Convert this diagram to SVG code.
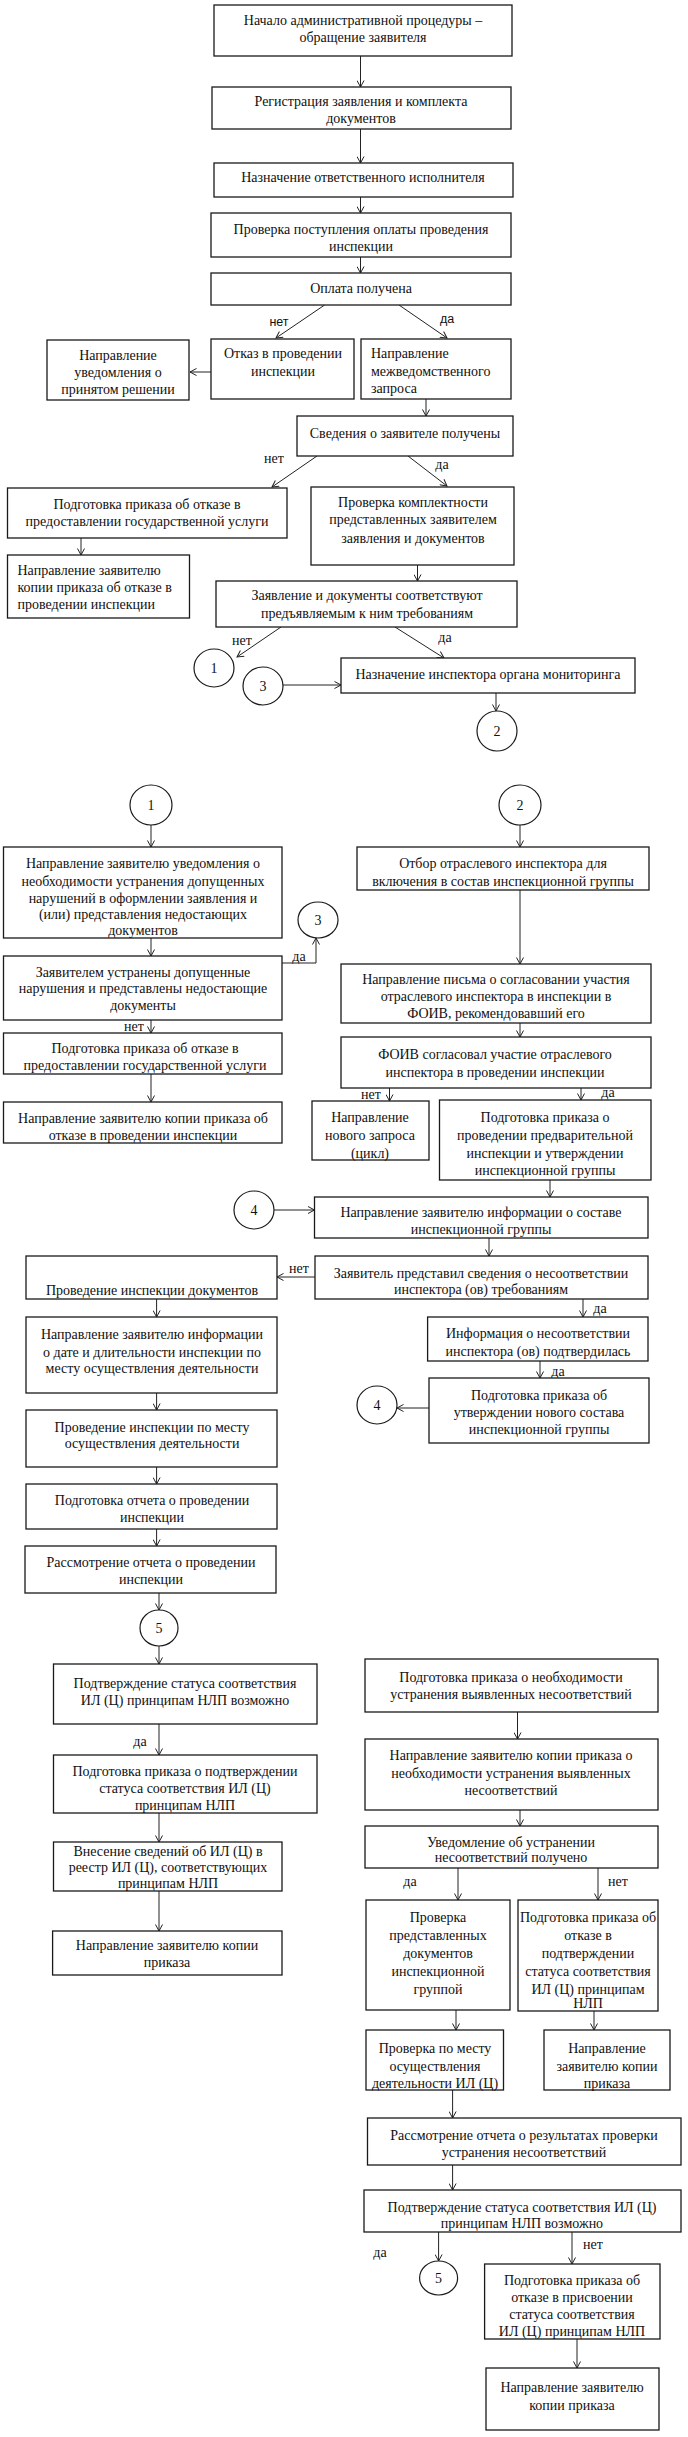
<svg xmlns="http://www.w3.org/2000/svg" width="688" height="2437" viewBox="0 0 688 2437">
<style>
.b{fill:#fff;stroke:#1a1a1a;stroke-width:1.3}
.c{fill:#fff;stroke:#1a1a1a;stroke-width:1.2}
text{font-family:"Liberation Serif","Times New Roman",serif;font-size:14px;fill:#111;text-anchor:middle}
text.l{text-anchor:start}
text.s{font-family:"Liberation Sans",Arial,sans-serif;font-size:12.5px}
#edges path{fill:none;stroke:#222;stroke-width:1;marker-end:url(#ah)}
</style>
<defs>
<marker id="ah" markerWidth="8" markerHeight="8" refX="7" refY="4" orient="auto" markerUnits="userSpaceOnUse">
<path d="M0.5,0.5 L7,4 L0.5,7.5" fill="none" stroke="#222" stroke-width="1"/>
</marker>
</defs>
<rect width="688" height="2437" fill="#fff"/>

<g id="edges">
<path d="M360.5,56V87"/>
<path d="M360.5,129V163"/>
<path d="M360.5,197V213"/>
<path d="M360.5,257V273"/>
<path d="M324.6,305L276,338"/>
<path d="M399,305L447,338"/>
<path d="M211,372H190"/>
<path d="M426,399V416"/>
<path d="M317,456L272,487"/>
<path d="M408,456L447,486"/>
<path d="M81,538V555"/>
<path d="M417.5,565V581"/>
<path d="M281,627L237,657"/>
<path d="M395,627L444,658"/>
<path d="M283,685H341"/>
<path d="M496,693V711"/>
<path d="M151,825V847"/>
<path d="M151,938V956"/>
<path d="M282,963H316V938"/>
<path d="M151,1020V1033"/>
<path d="M151,1074V1102"/>
<path d="M520,825V847"/>
<path d="M520,890V964"/>
<path d="M520,1023V1037"/>
<path d="M389.5,1088V1101"/>
<path d="M581,1088V1100"/>
<path d="M550,1180V1197"/>
<path d="M274,1210H314.5"/>
<path d="M489,1238V1256"/>
<path d="M315,1277H277"/>
<path d="M156.6,1299V1317"/>
<path d="M156.6,1393V1410"/>
<path d="M583,1299V1317"/>
<path d="M540,1361V1378"/>
<path d="M429,1408H397"/>
<path d="M156.6,1467V1484"/>
<path d="M156.6,1529V1546"/>
<path d="M159,1593V1610"/>
<path d="M159,1646V1664"/>
<path d="M159,1724V1755"/>
<path d="M159,1813V1842"/>
<path d="M159,1891V1931"/>
<path d="M517.5,1712V1739"/>
<path d="M520,1810V1826"/>
<path d="M458,1868V1900"/>
<path d="M598,1868V1900"/>
<path d="M456,2010V2030"/>
<path d="M594,2011V2030"/>
<path d="M452.6,2090V2118"/>
<path d="M452.6,2165V2190"/>
<path d="M438.6,2232V2261"/>
<path d="M572,2232V2264"/>
<path d="M577,2339V2368"/>
</g>

<g id="labels">
<text class="s" x="279" y="326">нет</text>
<text class="s" x="447" y="323">да</text>
<text x="274" y="463">нет</text>
<text x="442" y="469">да</text>
<text x="242" y="645">нет</text>
<text x="445" y="642">да</text>
<text x="299" y="961">да</text>
<text x="134" y="1031">нет</text>
<text x="371" y="1099">нет</text>
<text x="608" y="1097">да</text>
<text x="299" y="1273">нет</text>
<text x="600" y="1313">да</text>
<text x="558" y="1376">да</text>
<text x="140" y="1746">да</text>
<text x="410" y="1886">да</text>
<text x="618" y="1886">нет</text>
<text x="380" y="2257">да</text>
<text x="593" y="2249">нет</text>
</g>

<g id="n1"><rect class="b" x="214" y="5" width="298" height="51"/><text x="363" y="25">Начало административной процедуры –</text><text x="363" y="42">обращение заявителя</text></g>
<g id="n2"><rect class="b" x="212" y="87" width="299" height="42"/><text x="361" y="106">Регистрация заявления и комплекта</text><text x="361" y="123">документов</text></g>
<g id="n3"><rect class="b" x="214" y="163" width="299" height="34"/><text x="363" y="182">Назначение ответственного исполнителя</text></g>
<g id="n4"><rect class="b" x="211" y="213" width="300" height="44"/><text x="361" y="234">Проверка поступления оплаты проведения</text><text x="361" y="251">инспекции</text></g>
<g id="n5"><rect class="b" x="211" y="273" width="300" height="32"/><text x="361" y="293">Оплата получена</text></g>
<g id="n6"><rect class="b" x="47" y="340" width="142" height="60"/><text x="118" y="360">Направление</text><text x="118" y="377">уведомления о</text><text x="118" y="394">принятом решении</text></g>
<g id="n7"><rect class="b" x="211" y="339" width="143" height="60"/><text x="283" y="358">Отказ в проведении</text><text x="283" y="376">инспекции</text></g>
<g id="n8"><rect class="b" x="361" y="339" width="150" height="60"/><text class="l" x="371" y="358">Направление</text><text class="l" x="371" y="376">межведомственного</text><text class="l" x="371" y="393">запроса</text></g>
<g id="n9"><rect class="b" x="297" y="416" width="216" height="40"/><text x="405" y="438">Сведения о заявителе получены</text></g>
<g id="n10"><rect class="b" x="7.5" y="488" width="279.5" height="50"/><text x="147" y="509">Подготовка приказа об отказе в</text><text x="147" y="526">предоставлении государственной услуги</text></g>
<g id="n11"><rect class="b" x="311" y="487" width="203" height="78"/><text x="413" y="507">Проверка комплектности</text><text x="413" y="524">представленных заявителем</text><text x="413" y="543">заявления и документов</text></g>
<g id="n12"><rect class="b" x="7.5" y="555" width="182" height="63"/><text class="l" x="17.5" y="575">Направление заявителю</text><text class="l" x="17.5" y="592">копии приказа об отказе в</text><text class="l" x="17.5" y="609">проведении инспекции</text></g>
<g id="n13"><rect class="b" x="216" y="581" width="301" height="46"/><text x="367" y="600">Заявление и документы соответствуют</text><text x="367" y="618">предъявляемым к ним требованиям</text></g>
<g id="c1a"><ellipse class="c" cx="214" cy="668" rx="20" ry="19"/><text x="214" y="673">1</text></g>
<g id="c3a"><ellipse class="c" cx="263" cy="686" rx="20" ry="19"/><text x="263" y="691">3</text></g>
<g id="n14"><rect class="b" x="341" y="658" width="294" height="35"/><text x="488" y="679">Назначение инспектора органа мониторинга</text></g>
<g id="c2a"><ellipse class="c" cx="497" cy="731" rx="20" ry="20"/><text x="497" y="736">2</text></g>

<g id="c1b"><ellipse class="c" cx="151" cy="805" rx="21" ry="20"/><text x="151" y="810">1</text></g>
<g id="c2b"><ellipse class="c" cx="520" cy="805" rx="21" ry="20"/><text x="520" y="810">2</text></g>
<g id="n15"><rect class="b" x="3.5" y="847" width="278.5" height="91"/><text x="143" y="868">Направление заявителю уведомления о</text><text x="143" y="886">необходимости устранения допущенных</text><text x="143" y="903">нарушений в оформлении заявления и</text><text x="143" y="919">(или) представления недостающих</text><text x="143" y="935">документов</text></g>
<g id="n16"><rect class="b" x="3.5" y="956" width="278.5" height="64"/><text x="143" y="977">Заявителем устранены допущенные</text><text x="143" y="993">нарушения и представлены недостающие</text><text x="143" y="1010">документы</text></g>
<g id="c3b"><ellipse class="c" cx="318" cy="920" rx="20" ry="18"/><text x="318" y="925">3</text></g>
<g id="n17"><rect class="b" x="357" y="847" width="292" height="43"/><text x="503" y="868">Отбор отраслевого инспектора для</text><text x="503" y="886">включения в состав инспекционной группы</text></g>
<g id="n18"><rect class="b" x="341" y="964" width="310" height="59"/><text x="496" y="984">Направление письма о согласовании участия</text><text x="496" y="1001">отраслевого инспектора в инспекции в</text><text x="496" y="1018">ФОИВ, рекомендовавший его</text></g>
<g id="n19"><rect class="b" x="3.5" y="1033" width="278.5" height="41"/><text x="145" y="1053">Подготовка приказа об отказе в</text><text x="145" y="1070">предоставлении государственной услуги</text></g>
<g id="n20"><rect class="b" x="3.5" y="1102" width="278.5" height="41"/><text x="143" y="1123">Направление заявителю копии приказа об</text><text x="143" y="1140">отказе в проведении инспекции</text></g>
<g id="n21"><rect class="b" x="341" y="1037" width="310" height="51"/><text x="495" y="1059">ФОИВ согласовал участие отраслевого</text><text x="495" y="1077">инспектора в проведении инспекции</text></g>
<g id="n22"><rect class="b" x="312" y="1101" width="117" height="59"/><text x="370" y="1122">Направление</text><text x="370" y="1140">нового запроса</text><text x="370" y="1158">(цикл)</text></g>
<g id="n23"><rect class="b" x="439.5" y="1100" width="211.5" height="80"/><text x="545" y="1122">Подготовка приказа о</text><text x="545" y="1140">проведении предварительной</text><text x="545" y="1158">инспекции и утверждении</text><text x="545" y="1175">инспекционной группы</text></g>
<g id="c4a"><ellipse class="c" cx="254" cy="1210" rx="20" ry="19"/><text x="254" y="1215">4</text></g>
<g id="n24"><rect class="b" x="314.5" y="1197" width="333.5" height="41"/><text x="481" y="1217">Направление заявителю информации о составе</text><text x="481" y="1234">инспекционной группы</text></g>
<g id="n25"><rect class="b" x="315" y="1256" width="333" height="43"/><text x="481" y="1278">Заявитель представил сведения о несоответствии</text><text x="481" y="1294">инспектора (ов) требованиям</text></g>
<g id="n26"><rect class="b" x="26" y="1256" width="251" height="43"/><text x="152" y="1295">Проведение инспекции документов</text></g>
<g id="n27"><rect class="b" x="26" y="1317" width="251" height="76"/><text x="152" y="1339">Направление заявителю информации</text><text x="152" y="1357">о дате и длительности инспекции по</text><text x="152" y="1373">месту осуществления деятельности</text></g>
<g id="n28"><rect class="b" x="26" y="1410" width="251" height="57"/><text x="152" y="1432">Проведение инспекции по месту</text><text x="152" y="1448">осуществления деятельности</text></g>
<g id="n29"><rect class="b" x="427.6" y="1317" width="220.4" height="44"/><text x="538" y="1338">Информация о несоответствии</text><text x="538" y="1356">инспектора (ов) подтвердилась</text></g>
<g id="n30"><rect class="b" x="429" y="1378" width="220" height="65"/><text x="539" y="1400">Подготовка приказа об</text><text x="539" y="1417">утверждении нового состава</text><text x="539" y="1434">инспекционной группы</text></g>
<g id="c4b"><ellipse class="c" cx="377" cy="1405" rx="20" ry="19"/><text x="377" y="1410">4</text></g>
<g id="n31"><rect class="b" x="26" y="1484" width="251" height="45"/><text x="152" y="1505">Подготовка отчета о проведении</text><text x="152" y="1522">инспекции</text></g>
<g id="n32"><rect class="b" x="25" y="1546" width="251" height="47"/><text x="151" y="1567">Рассмотрение отчета о проведении</text><text x="151" y="1584">инспекции</text></g>
<g id="c5a"><ellipse class="c" cx="159" cy="1628" rx="19" ry="18"/><text x="159" y="1633">5</text></g>
<g id="n33"><rect class="b" x="53.5" y="1664" width="263.5" height="60"/><text x="185" y="1688">Подтверждение статуса соответствия</text><text x="185" y="1705">ИЛ (Ц) принципам НЛП возможно</text></g>
<g id="n34"><rect class="b" x="53.5" y="1755" width="263.5" height="58"/><text x="185" y="1776">Подготовка приказа о подтверждении</text><text x="185" y="1793">статуса соответствия ИЛ (Ц)</text><text x="185" y="1810">принципам НЛП</text></g>
<g id="n35"><rect class="b" x="53.5" y="1842" width="228.5" height="49"/><text x="168" y="1856">Внесение сведений об ИЛ (Ц) в</text><text x="168" y="1872">реестр ИЛ (Ц), соответствующих</text><text x="168" y="1888">принципам НЛП</text></g>
<g id="n36"><rect class="b" x="52.6" y="1931" width="229.4" height="44"/><text x="167" y="1950">Направление заявителю копии</text><text x="167" y="1967">приказа</text></g>
<g id="n37"><rect class="b" x="365" y="1659" width="293" height="53"/><text x="511" y="1682">Подготовка приказа о необходимости</text><text x="511" y="1699">устранения выявленных несоответствий</text></g>
<g id="n38"><rect class="b" x="365" y="1739" width="293" height="71"/><text x="511" y="1760">Направление заявителю копии приказа о</text><text x="511" y="1778">необходимости устранения выявленных</text><text x="511" y="1795">несоответствий</text></g>
<g id="n39"><rect class="b" x="365" y="1826" width="293" height="42"/><text x="511" y="1847">Уведомление об устранении</text><text x="511" y="1862">несоответствий получено</text></g>
<g id="n40"><rect class="b" x="366" y="1900" width="144" height="110"/><text x="438" y="1922">Проверка</text><text x="438" y="1940">представленных</text><text x="438" y="1958">документов</text><text x="438" y="1976">инспекционной</text><text x="438" y="1994">группой</text></g>
<g id="n41"><rect class="b" x="518" y="1900" width="140" height="111"/><text x="588" y="1922">Подготовка приказа об</text><text x="588" y="1940">отказе в</text><text x="588" y="1958">подтверждении</text><text x="588" y="1976">статуса соответствия</text><text x="588" y="1994">ИЛ (Ц) принципам</text><text x="588" y="2008">НЛП</text></g>
<g id="n42"><rect class="b" x="366" y="2030" width="137.5" height="60"/><text x="435" y="2053">Проверка по месту</text><text x="435" y="2071">осуществления</text><text x="435" y="2088">деятельности ИЛ (Ц)</text></g>
<g id="n43"><rect class="b" x="544" y="2030" width="126" height="60"/><text x="607" y="2053">Направление</text><text x="607" y="2071">заявителю копии</text><text x="607" y="2088">приказа</text></g>
<g id="n44"><rect class="b" x="367.5" y="2118" width="313.5" height="47"/><text x="524" y="2140">Рассмотрение отчета о результатах проверки</text><text x="524" y="2157">устранения несоответствий</text></g>
<g id="n45"><rect class="b" x="364" y="2190" width="317" height="42"/><text x="522" y="2212">Подтверждение статуса соответствия ИЛ (Ц)</text><text x="522" y="2228">принципам НЛП возможно</text></g>
<g id="c5b"><ellipse class="c" cx="438.6" cy="2278" rx="19" ry="17"/><text x="438.6" y="2283">5</text></g>
<g id="n46"><rect class="b" x="484.6" y="2264" width="175.4" height="75"/><text x="572" y="2285">Подготовка приказа об</text><text x="572" y="2302">отказе в присвоении</text><text x="572" y="2319">статуса соответствия</text><text x="572" y="2336">ИЛ (Ц) принципам НЛП</text></g>
<g id="n47"><rect class="b" x="486" y="2368" width="173" height="62"/><text x="572" y="2392">Направление заявителю</text><text x="572" y="2410">копии приказа</text></g>
</svg>
